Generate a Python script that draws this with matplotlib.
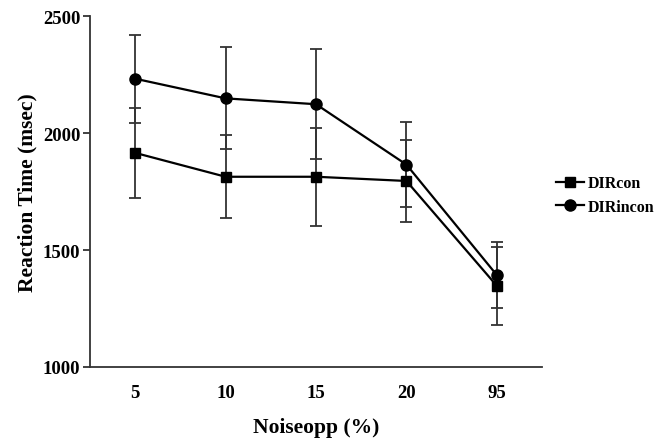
import matplotlib
matplotlib.use("Agg")
import matplotlib.pyplot as plt
import numpy as np

categories = ["5", "10", "15", "20", "95"]
dircon = [1915, 1813, 1813, 1795, 1347]
dircon_err = [193, 178, 210, 176, 166]
dirincon = [2232, 2148, 2123, 1865, 1393]
dirincon_err = [188, 218, 235, 183, 142]

plt.rcParams['font.family'] = ['Liberation Serif', 'DejaVu Serif']
plt.rcParams['font.weight'] = 'bold'

fig = plt.figure(figsize=(6.67, 4.39), dpi=100)
ax = fig.add_axes([90/667, 1-368/439, (542-90)/667, (368-17)/439])

x = np.arange(1, len(categories) + 1)
ecol = '#333333'
ax.errorbar(x, dircon, yerr=dircon_err, fmt='none', ecolor=ecol, elinewidth=1.3,
            capsize=4, capthick=1.3, zorder=2)
ax.errorbar(x, dirincon, yerr=dirincon_err, fmt='none', ecolor=ecol, elinewidth=1.3,
            capsize=4, capthick=1.3, zorder=2)
ax.plot(x, dircon, color='black', lw=1.6, marker='s', markersize=7.5, label='DIRcon', zorder=3)
ax.plot(x, dirincon, color='black', lw=1.6, marker='o', markersize=8, label='DIRincon', zorder=3)

ax.set_xlim(0.5, 5.5)
ax.set_ylim(1000, 2500)
ax.set_yticks([1000, 1500, 2000, 2500])
ax.set_xticks(x)
ax.set_xticklabels(categories)
ax.tick_params(axis='x', length=0, pad=12, labelsize=13.5)
ax.tick_params(axis='y', length=5, width=1.3, color=ecol, pad=2, labelsize=13.5)
for lbl in ax.get_xticklabels() + ax.get_yticklabels():
    lbl.set_fontweight('bold')

for s in ['top', 'right']:
    ax.spines[s].set_visible(False)
for s in ['left', 'bottom']:
    ax.spines[s].set_color(ecol)
    ax.spines[s].set_linewidth(1.3)

ax.set_xlabel('Noiseopp (%)', fontsize=15.5, fontweight='bold', labelpad=12)
ax.set_ylabel('Reaction Time (msec)', fontsize=15.5, fontweight='bold', labelpad=4)

leg = ax.legend(loc='center left', bbox_to_anchor=(1.03, 0.49), frameon=False,
                prop={'family': 'Liberation Serif', 'weight': 'bold', 'size': 11.5},
                handlelength=1.8, handletextpad=0.2, labelspacing=0.45, borderaxespad=0,
                borderpad=0)

fig.savefig('out.png', dpi=100)
